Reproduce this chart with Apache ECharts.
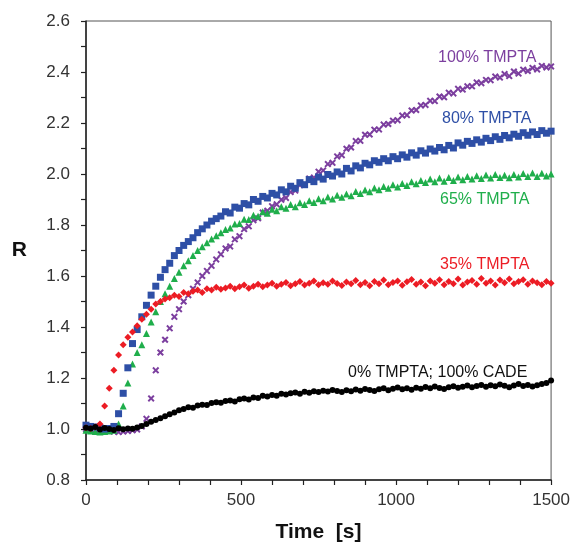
<!DOCTYPE html>
<html><head><meta charset="utf-8">
<script src="https://cdn.jsdelivr.net/npm/echarts@6/dist/echarts.min.js"></script>
<style>html,body{margin:0;padding:0;background:#fff}#c{width:573px;height:548px}</style>
</head><body><div id="c"></div>
<script>
var times = [
0,15,30,45,60,75,90,105,120,135,
150,165,180,195,210,225,240,255,270,285,
300,315,330,345,360,375,390,405,420,435,
450,465,480,495,510,525,540,555,570,585,
600,615,630,645,660,675,690,705,720,735,
750,765,780,795,810,825,840,855,870,885,
900,915,930,945,960,975,990,1005,1020,1035,
1050,1065,1080,1095,1110,1125,1140,1155,1170,1185,
1200,1215,1230,1245,1260,1275,1290,1305,1320,1335,
1350,1365,1380,1395,1410,1425,1440,1455,1470,1485,
1500];
var r0 = [
1.005,1.002,1.008,0.998,1.004,1.000,0.996,1.003,0.999,1.002,
1.001,1.006,1.012,1.020,1.028,1.035,1.042,1.050,1.058,1.065,
1.074,1.078,1.085,1.083,1.092,1.095,1.094,1.102,1.105,1.103,
1.110,1.112,1.108,1.117,1.120,1.116,1.124,1.122,1.130,1.127,
1.133,1.130,1.138,1.135,1.140,1.143,1.138,1.146,1.142,1.148,
1.145,1.150,1.147,1.153,1.149,1.145,1.152,1.148,1.155,1.150,
1.157,1.153,1.149,1.156,1.160,1.152,1.158,1.163,1.156,1.160,
1.154,1.162,1.158,1.165,1.160,1.167,1.161,1.157,1.164,1.168,
1.162,1.166,1.171,1.164,1.169,1.173,1.166,1.172,1.168,1.175,
1.170,1.164,1.171,1.176,1.169,1.173,1.167,1.172,1.176,1.180,
1.190];
var r35 = [
1.005,1.002,1.008,1.020,1.090,1.160,1.230,1.290,1.330,1.360,
1.380,1.405,1.430,1.450,1.470,1.490,1.500,1.510,1.515,1.525,
1.520,1.535,1.530,1.540,1.545,1.535,1.550,1.545,1.556,1.548,
1.553,1.560,1.550,1.558,1.565,1.552,1.560,1.568,1.558,1.565,
1.572,1.560,1.568,1.575,1.562,1.570,1.578,1.565,1.572,1.580,
1.566,1.574,1.568,1.580,1.571,1.563,1.576,1.570,1.582,1.566,
1.575,1.562,1.578,1.570,1.584,1.566,1.575,1.580,1.564,1.577,
1.586,1.568,1.576,1.562,1.580,1.572,1.585,1.566,1.578,1.570,
1.588,1.565,1.576,1.582,1.568,1.590,1.572,1.580,1.565,1.584,
1.574,1.588,1.570,1.578,1.585,1.568,1.580,1.574,1.566,1.578,
1.572];
var r65 = [
0.995,0.992,0.990,0.988,0.990,0.992,0.995,1.020,1.090,1.180,
1.255,1.300,1.330,1.375,1.420,1.460,1.500,1.530,1.560,1.590,
1.615,1.640,1.660,1.680,1.700,1.715,1.730,1.745,1.758,1.770,
1.782,1.788,1.804,1.806,1.823,1.822,1.838,1.834,1.852,1.846,
1.862,1.856,1.872,1.866,1.880,1.872,1.887,1.880,1.895,1.888,
1.903,1.895,1.910,1.902,1.917,1.909,1.922,1.915,1.931,1.924,
1.937,1.930,1.945,1.938,1.951,1.944,1.958,1.949,1.963,1.955,
1.970,1.962,1.975,1.967,1.980,1.970,1.984,1.972,1.986,1.975,
1.988,1.977,1.990,1.980,1.993,1.982,1.996,1.984,1.998,1.986,
1.995,1.985,1.998,1.988,2.002,1.990,2.004,1.990,2.003,1.992,
2.000];
var r80 = [
1.015,1.010,1.008,1.005,1.000,1.002,1.010,1.060,1.140,1.240,
1.335,1.390,1.440,1.485,1.525,1.560,1.595,1.625,1.650,1.680,
1.700,1.720,1.735,1.750,1.770,1.785,1.800,1.815,1.825,1.835,
1.852,1.847,1.870,1.866,1.884,1.879,1.900,1.893,1.912,1.906,
1.924,1.918,1.938,1.930,1.952,1.944,1.966,1.958,1.978,1.970,
1.988,1.980,1.998,1.992,2.008,2.000,2.022,2.012,2.032,2.024,
2.042,2.036,2.052,2.046,2.060,2.052,2.068,2.060,2.075,2.066,
2.083,2.074,2.091,2.082,2.098,2.090,2.104,2.095,2.112,2.102,
2.122,2.113,2.128,2.120,2.134,2.125,2.140,2.131,2.146,2.136,
2.151,2.142,2.156,2.148,2.162,2.152,2.165,2.155,2.170,2.160,
2.168];
var r100 = [
1.000,0.998,0.995,0.993,0.990,0.992,0.990,0.988,0.990,0.992,
0.995,0.998,1.010,1.040,1.120,1.230,1.300,1.350,1.395,1.440,
1.470,1.500,1.525,1.550,1.575,1.600,1.620,1.640,1.665,1.685,
1.708,1.716,1.744,1.756,1.784,1.795,1.819,1.826,1.849,1.856,
1.874,1.881,1.899,1.906,1.929,1.935,1.956,1.960,1.982,1.986,
2.009,2.014,2.039,2.044,2.069,2.074,2.099,2.104,2.129,2.130,
2.154,2.155,2.174,2.175,2.194,2.196,2.209,2.211,2.229,2.231,
2.249,2.251,2.269,2.271,2.287,2.286,2.304,2.301,2.319,2.316,
2.334,2.331,2.344,2.344,2.359,2.356,2.369,2.368,2.382,2.378,
2.392,2.384,2.402,2.394,2.409,2.404,2.416,2.410,2.424,2.418,
2.422];
var seriesNames = ['0% TMPTA; 100% CADE','35% TMPTA','65% TMPTA','80% TMPTA','100% TMPTA'];
var xTicks = [0,500,1000,1500];

function pairs(ys){ return times.map(function(t,i){ return [t, ys[i]]; }); }
var xPath = 'path://M0,2L2,0L5,3L8,0L10,2L7,5L10,8L8,10L5,7L2,10L0,8L3,5Z';
var FONT = 'Liberation Sans, Arial, sans-serif';
var chart = echarts.init(document.getElementById('c'));
function mk(name, ys, color, symbol, size){
  return {name:name, type:'scatter', data:pairs(ys), symbol:symbol, symbolSize:size,
    itemStyle:{color:color, opacity:1}, silent:true, animation:false};
}
var C = {k:'#000000', r:'#ec1c24', g:'#1fae4b', b:'#2e4fa6', p:'#7c3f9f'};
chart.setOption({
  backgroundColor:'#fff',
  animation:false,
  grid:{left:86, right:21, top:21, bottom:64, show:true, borderColor:'#555', borderWidth:1},
  xAxis:{type:'value', min:0, max:1500, interval:100,
    name:'Time  [s]', nameLocation:'middle', nameGap:42,
    nameTextStyle:{fontFamily:FONT, fontSize:21, fontWeight:'bold', color:'#111'},
    axisLine:{show:true, lineStyle:{color:'#222', width:1.5}},
    axisTick:{show:true, inside:false, length:5, lineStyle:{color:'#222', width:1.2}},
    axisLabel:{margin:12, fontFamily:FONT, fontSize:17, color:'#333',
      formatter:function(v){ return xTicks.indexOf(v) >= 0 ? String(v) : ''; }},
    splitLine:{show:false}},
  yAxis:{type:'value', min:0.8, max:2.6, interval:0.1,
    name:'R', nameLocation:'middle', nameRotate:0, nameGap:59,
    nameTextStyle:{fontFamily:FONT, fontSize:21, fontWeight:'bold', color:'#111'},
    axisLine:{show:true, lineStyle:{color:'#222', width:1.5}},
    axisTick:{show:true, inside:false, length:5, lineStyle:{color:'#222', width:1.2}},
    axisLabel:{margin:16, fontFamily:FONT, fontSize:17, color:'#333',
      formatter:function(v){ var k=Math.round(v*10); return k%2===0 ? (k/10).toFixed(1) : ''; }},
    splitLine:{show:false}},
  series:[
    mk(seriesNames[4], r100, C.p, xPath, 7),
    mk(seriesNames[2], r65, C.g, 'triangle', 7),
    mk(seriesNames[3], r80, C.b, 'rect', 7),
    mk(seriesNames[1], r35, C.r, 'diamond', 7),
    mk(seriesNames[0], r0, C.k, 'circle', 6)
  ],
  graphic:[
    {type:'text', left:438, top:50, style:{text:seriesNames[4], fill:C.p, font:'16px '+FONT}},
    {type:'text', left:442, top:111, style:{text:seriesNames[3], fill:C.b, font:'16px '+FONT}},
    {type:'text', left:440, top:192, style:{text:seriesNames[2], fill:C.g, font:'16px '+FONT}},
    {type:'text', left:440, top:257, style:{text:seriesNames[1], fill:C.r, font:'16px '+FONT}},
    {type:'text', left:348, top:365, style:{text:seriesNames[0], fill:'#111', font:'16px '+FONT}}
  ]
});
</script></body></html>
